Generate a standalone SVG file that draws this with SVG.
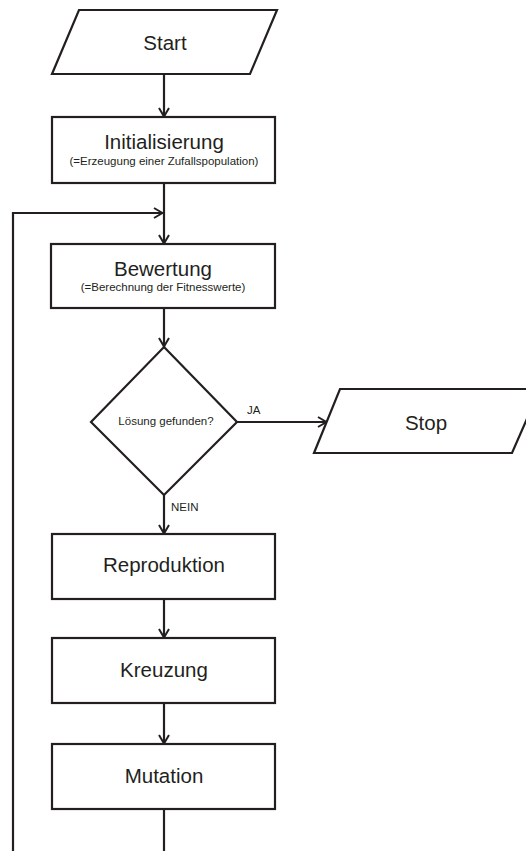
<svg xmlns="http://www.w3.org/2000/svg" width="526" height="851" viewBox="0 0 526 851">
  <style>
    .shape { fill: #ffffff; stroke: #231f20; stroke-width: 2.2; }
    .wire { fill: none; stroke: #231f20; stroke-width: 2.2; }
    .title { font-family: "Liberation Sans", Arial, sans-serif; font-size: 20.5px; fill: #231f20; text-anchor: middle; }
    .sub { font-family: "Liberation Sans", Arial, sans-serif; font-size: 11.5px; fill: #231f20; text-anchor: middle; }
    .small { font-family: "Liberation Sans", Arial, sans-serif; font-size: 11.5px; fill: #231f20; }
  </style>
  <defs>
    <marker id="arrow" viewBox="0 0 10 12" refX="10" refY="6" markerWidth="10" markerHeight="12" markerUnits="userSpaceOnUse" orient="auto">
      <path d="M1,1 L9.5,6 L1,11" fill="none" stroke="#231f20" stroke-width="2"/>
    </marker>
  </defs>

  <rect width="526" height="851" fill="#ffffff"/>

  <g id="connectors">
    <line class="wire" x1="164" y1="74" x2="164" y2="117" marker-end="url(#arrow)"/>
    <line class="wire" x1="164" y1="183" x2="164" y2="244" marker-end="url(#arrow)"/>
    <polyline class="wire" points="13,851 13,213 163,213" marker-end="url(#arrow)"/>
    <line class="wire" x1="164" y1="308" x2="164" y2="347" marker-end="url(#arrow)"/>
    <line class="wire" x1="237" y1="422" x2="327" y2="422" marker-end="url(#arrow)"/>
    <line class="wire" x1="164" y1="495" x2="164" y2="534" marker-end="url(#arrow)"/>
    <line class="wire" x1="164" y1="599" x2="164" y2="638" marker-end="url(#arrow)"/>
    <line class="wire" x1="164" y1="703" x2="164" y2="744" marker-end="url(#arrow)"/>
    <line class="wire" x1="164" y1="809" x2="164" y2="851"/>
    <text class="small" x="247" y="414">JA</text>
    <text class="small" x="171" y="511">NEIN</text>
  </g>

  <g id="start">
    <polygon class="shape" points="79,10 277,10 250,74 52,74"/>
    <text class="title" x="165" y="50">Start</text>
  </g>

  <g id="init">
    <rect class="shape" x="52" y="117" width="223" height="66"/>
    <text class="title" x="164" y="149">Initialisierung</text>
    <text class="sub" x="164" y="165">(=Erzeugung einer Zufallspopulation)</text>
  </g>

  <g id="eval">
    <rect class="shape" x="51" y="244" width="224" height="64"/>
    <text class="title" x="163" y="276">Bewertung</text>
    <text class="sub" x="163" y="291">(=Berechnung der Fitnesswerte)</text>
  </g>

  <g id="decision">
    <polygon class="shape" points="164,347 237,422 164,495 91,422"/>
    <text class="small" x="166" y="425" text-anchor="middle">Lösung gefunden?</text>
  </g>

  <g id="stop">
    <polygon class="shape" points="340,389 540,389 512,453 314,453"/>
    <text class="title" x="426" y="430">Stop</text>
  </g>

  <g id="reproduction">
    <rect class="shape" x="52" y="534" width="223" height="65"/>
    <text class="title" x="164" y="572">Reproduktion</text>
  </g>

  <g id="crossover">
    <rect class="shape" x="52" y="638" width="223" height="65"/>
    <text class="title" x="164" y="677">Kreuzung</text>
  </g>

  <g id="mutation">
    <rect class="shape" x="52" y="744" width="223" height="65"/>
    <text class="title" x="164" y="783">Mutation</text>
  </g>
</svg>
